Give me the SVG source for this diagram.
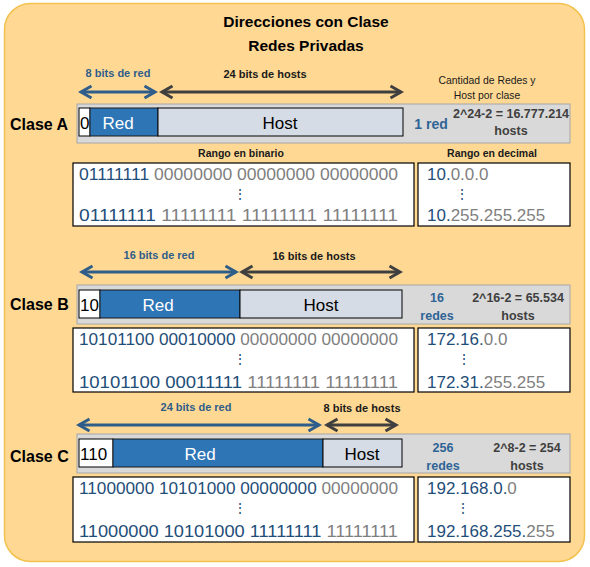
<svg xmlns="http://www.w3.org/2000/svg" width="590" height="567" viewBox="0 0 590 567">
<defs>
<style>
text{font-family:"Liberation Sans",Arial,sans-serif}
.title{font-size:15.5px;font-weight:bold;fill:#000;text-anchor:middle}
.cls{font-size:16px;font-weight:bold;fill:#000}
.lblb{font-size:11px;font-weight:bold;fill:#2F5D8A;text-anchor:middle}
.lbld{font-size:11px;font-weight:bold;fill:#1a1a1a;text-anchor:middle}
.small{font-size:10.4px;fill:#1a1a1a;text-anchor:middle}
.rng{font-size:10.5px;font-weight:bold;fill:#1a1a1a;text-anchor:middle}
.bar{fill:#D9D9D9;stroke:#A6A6A6;stroke-width:1}
.pre{fill:#FFFFFF;stroke:#000;stroke-width:1}
.red{fill:#2E75B6;stroke:#1a1a1a;stroke-width:1}
.host{fill:#D6DCE5;stroke:#000;stroke-width:1}
.box{fill:#FFFFFF;stroke:#000;stroke-width:1.2}
.seg{font-size:17px;fill:#000}
.segw{font-size:17px;fill:#FFFFFF;text-anchor:middle}
.segh{font-size:17px;fill:#000;text-anchor:middle}
.num{font-size:17px}
.b{fill:#1F4E79}
.g{fill:#7F7F7F}
.nred{font-size:12.5px;font-weight:bold;fill:#2F6496;text-anchor:middle}
.nhost{font-size:12.5px;font-weight:bold;fill:#3F3F3F;text-anchor:middle}
.dots{font-size:14px;fill:#1F4E79;text-anchor:middle}
.ab{stroke:#2F5D8A;stroke-width:3;fill:none}
.ad{stroke:#3F3F3F;stroke-width:3;fill:none}
</style>
<marker id="mb" viewBox="0 0 13 14" refX="12" refY="7" markerWidth="13" markerHeight="14" markerUnits="userSpaceOnUse" orient="auto-start-reverse" overflow="visible">
<path d="M1.5,1 L12,7 L1.5,13" fill="none" stroke="#2F5D8A" stroke-width="3" stroke-linejoin="miter"/>
</marker>
<marker id="md" viewBox="0 0 13 14" refX="12" refY="7" markerWidth="13" markerHeight="14" markerUnits="userSpaceOnUse" orient="auto-start-reverse" overflow="visible">
<path d="M1.5,1 L12,7 L1.5,13" fill="none" stroke="#3F3F3F" stroke-width="3" stroke-linejoin="miter"/>
</marker>
</defs>

<g id="background">
<rect x="4.5" y="3.5" width="580" height="558" rx="26" ry="26" fill="#FFD994" stroke="#F2C14E" stroke-width="1.5"/>
<text class="title" x="306" y="27">Direcciones con Clase</text>
<text class="title" x="306" y="51">Redes Privadas</text>
<text class="small" x="487" y="84">Cantidad de Redes y</text>
<text class="small" x="487" y="99">Host por clase</text>
</g>

<g id="connectors">
<line class="ab" x1="81" y1="92" x2="155" y2="92" marker-start="url(#mb)" marker-end="url(#mb)"/>
<line class="ad" x1="162" y1="92" x2="401" y2="92" marker-start="url(#md)" marker-end="url(#md)"/>
<line class="ab" x1="82" y1="272" x2="236" y2="272" marker-start="url(#mb)" marker-end="url(#mb)"/>
<line class="ad" x1="242" y1="272" x2="400" y2="272" marker-start="url(#md)" marker-end="url(#md)"/>
<line class="ab" x1="79" y1="425" x2="319" y2="425" marker-start="url(#mb)" marker-end="url(#mb)"/>
<line class="ad" x1="327" y1="425" x2="396" y2="425" marker-start="url(#md)" marker-end="url(#md)"/>
</g>

<g id="claseA">
<text class="lblb" x="118" y="77">8 bits de red</text>
<text class="lbld" x="265" y="78">24 bits de hosts</text>
<text class="cls" x="10" y="130">Clase A</text>
<rect class="bar" x="77" y="104" width="493" height="39"/>
<rect class="pre" x="79" y="108" width="11" height="28"/>
<rect class="red" x="90" y="108" width="68" height="28"/>
<rect class="host" x="158" y="108" width="245" height="28"/>
<text class="seg" x="80" y="129">0</text>
<text class="segw" x="118" y="129">Red</text>
<text class="segh" x="280" y="129">Host</text>
<text class="nred" x="431" y="129" style="font-size:14px">1 red</text>
<text class="nhost" x="511" y="118">2^24-2 = 16.777.214</text>
<text class="nhost" x="511" y="135">hosts</text>
<text class="rng" x="241" y="157">Rango en binario</text>
<text class="rng" x="492" y="157">Rango en decimal</text>
<rect class="box" x="73" y="163" width="341" height="63"/>
<rect class="box" x="418" y="163" width="152" height="63"/>
<text class="num" x="79" y="180" textLength="319" lengthAdjust="spacingAndGlyphs"><tspan class="b">01111111</tspan><tspan class="g"> 00000000 00000000 00000000</tspan></text>
<text class="dots" x="240" y="199">⋮</text>
<text class="num" x="79" y="221" textLength="319" lengthAdjust="spacingAndGlyphs"><tspan class="b">01111111</tspan><tspan class="g"> 11111111 11111111 11111111</tspan></text>
<text class="num" x="427" y="180"><tspan class="b">10.</tspan><tspan class="g">0.0.0</tspan></text>
<text class="dots" x="462" y="199">⋮</text>
<text class="num" x="427" y="221"><tspan class="b">10.</tspan><tspan class="g">255.255.255</tspan></text>
</g>

<g id="claseB">
<text class="lblb" x="159" y="259">16 bits de red</text>
<text class="lbld" x="314" y="260">16 bits de hosts</text>
<text class="cls" x="10" y="310">Clase B</text>
<rect class="bar" x="77" y="285" width="493" height="39"/>
<rect class="pre" x="79" y="290" width="21" height="28"/>
<rect class="red" x="100" y="290" width="140" height="28"/>
<rect class="host" x="240" y="290" width="162" height="28"/>
<text class="seg" x="80" y="311">10</text>
<text class="segw" x="158" y="311">Red</text>
<text class="segh" x="321" y="311">Host</text>
<text class="nred" x="437" y="302">16</text>
<text class="nred" x="437" y="320">redes</text>
<text class="nhost" x="518" y="302">2^16-2 = 65.534</text>
<text class="nhost" x="518" y="320">hosts</text>
<rect class="box" x="73" y="328" width="341" height="64"/>
<rect class="box" x="418" y="328" width="152" height="64"/>
<text class="num" x="79" y="345" textLength="319" lengthAdjust="spacingAndGlyphs"><tspan class="b">10101100 00010000</tspan><tspan class="g"> 00000000 00000000</tspan></text>
<text class="dots" x="240" y="364">⋮</text>
<text class="num" x="79" y="388" textLength="319" lengthAdjust="spacingAndGlyphs"><tspan class="b">10101100 00011111</tspan><tspan class="g"> 11111111 11111111</tspan></text>
<text class="num" x="427" y="345"><tspan class="b">172.16.</tspan><tspan class="g">0.0</tspan></text>
<text class="dots" x="464" y="364">⋮</text>
<text class="num" x="427" y="388"><tspan class="b">172.31.</tspan><tspan class="g">255.255</tspan></text>
</g>

<g id="claseC">
<text class="lblb" x="196" y="411">24 bits de red</text>
<text class="lbld" x="362" y="412">8 bits de hosts</text>
<text class="cls" x="10" y="462">Clase C</text>
<rect class="bar" x="77" y="434" width="493" height="39"/>
<rect class="pre" x="79" y="439" width="34" height="28"/>
<rect class="red" x="113" y="439" width="210" height="28"/>
<rect class="host" x="323" y="439" width="79" height="28"/>
<text class="seg" x="80" y="460">110</text>
<text class="segw" x="200" y="460">Red</text>
<text class="segh" x="362" y="460">Host</text>
<text class="nred" x="443" y="452">256</text>
<text class="nred" x="443" y="470">redes</text>
<text class="nhost" x="527" y="452">2^8-2 = 254</text>
<text class="nhost" x="527" y="470">hosts</text>
<rect class="box" x="73" y="477" width="341" height="65"/>
<rect class="box" x="418" y="477" width="152" height="65"/>
<text class="num" x="79" y="494" textLength="319" lengthAdjust="spacingAndGlyphs"><tspan class="b">11000000 10101000 00000000</tspan><tspan class="g"> 00000000</tspan></text>
<text class="dots" x="240" y="513">⋮</text>
<text class="num" x="79" y="537" textLength="319" lengthAdjust="spacingAndGlyphs"><tspan class="b">11000000 10101000 11111111</tspan><tspan class="g"> 11111111</tspan></text>
<text class="num" x="427" y="494"><tspan class="b">192.168.0.</tspan><tspan class="g">0</tspan></text>
<text class="dots" x="463" y="513">⋮</text>
<text class="num" x="427" y="537"><tspan class="b">192.168.255.</tspan><tspan class="g">255</tspan></text>
</g>
</svg>
